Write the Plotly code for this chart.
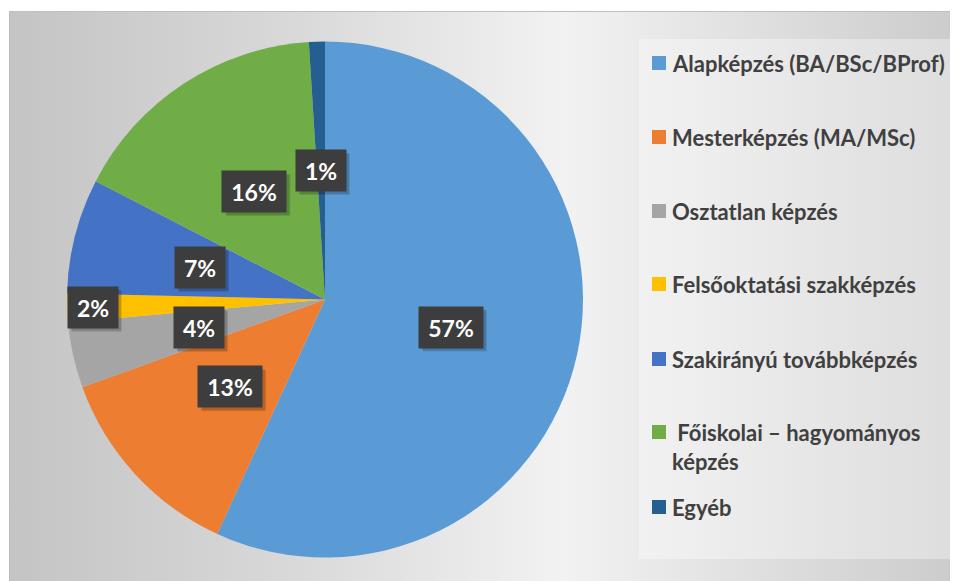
import math
import plotly.graph_objects as go

# ---- data ----
categories = [
    "Alapképzés (BA/BSc/BProf)",
    "Mesterképzés (MA/MSc)",
    "Osztatlan képzés",
    "Felsőoktatási szakképzés",
    "Szakirányú továbbképzés",
    "Főiskolai – hagyományos képzés",
    "Egyéb",
]
shares = [56.8, 12.6, 4.1, 1.8, 7.2, 16.4, 1.0]
colors = ["#5B9BD5", "#ED7D31", "#A5A5A5", "#FFC000", "#4472C4", "#70AD47", "#255E91"]

# ---- layout constants (page pixel coordinates) ----
PAGE_W, PAGE_H = 958, 581
OFF = 8                      # default body margin of the html page
W, H = PAGE_W - OFF, PAGE_H - OFF
CX, CY, R = 325, 299.5, 258
label_radius = [0.5, 0.5, 0.5, 0.9, 0.5, 0.5, 0.5]
legend_y = [63, 137, 211, 284, 359, 432, 507]
legend_display = {
    "Főiskolai – hagyományos képzés": "\u00a0Főiskolai – hagyományos<br>képzés",
}
FONT = "Lato"

fig = go.Figure()

# background panel with gradient
fig.add_trace(go.Scatter(
    x=[9.5, 965, 965, 9.5, 9.5], y=[11.5, 11.5, 595, 595, 11.5],
    mode="lines", fill="toself",
    fillgradient=dict(type="horizontal",
                      colorscale=[[0, "#c4c4c4"], [0.3, "#d9d9d9"], [0.58, "#f2f2f2"], [1, "#cbcbcb"]]),
    line=dict(color="#bdbdbd", width=1),
    hoverinfo="skip", showlegend=False,
))


def px_x(v):
    return (v - OFF) / W


def px_y(v):
    return 1 - (v - OFF) / H


fig.add_trace(go.Pie(
    labels=categories, values=shares,
    marker=dict(colors=colors, line=dict(width=0)),
    sort=False, direction="clockwise", rotation=0,
    textinfo="none", hoverinfo="label+percent",
    domain=dict(x=[px_x(CX - R), px_x(CX + R)], y=[px_y(CY + R), px_y(CY - R)]),
    showlegend=False,
))

annotations = []
shapes = []

# data labels
total = sum(shares)
cum = 0.0
for v, f in zip(shares, label_radius):
    mid = (cum + v / 2) / total * 2 * math.pi
    cum += v
    x = CX + R * f * math.sin(mid)
    y = CY - R * f * math.cos(mid)
    txt = f"{round(v / total * 100)}%"
    bw = 22 + 14 * len(txt)
    bh = 41
    # soft shadow
    for k, a in ((4, 0.10), (3, 0.14)):
        shapes.append(dict(type="rect", xref="x", yref="y",
                           x0=x - bw / 2 + k, x1=x + bw / 2 + k, y0=y - bh / 2 + k, y1=y + bh / 2 + k,
                           fillcolor=f"rgba(0,0,0,{a})", line=dict(width=0), layer="above"))
    annotations.append(dict(
        x=x, y=y, xref="x", yref="y", text=txt, showarrow=False,
        width=bw, height=bh, borderpad=0, bgcolor="#3d3d3d",
        font=dict(family=FONT, size=23, color="#ffffff", weight="bold"),
    ))

# legend box
shapes.insert(0, dict(type="rect", xref="x", yref="y", x0=639, x1=954, y0=39, y1=559,
                      fillcolor="rgba(255,255,255,0.35)", line=dict(width=0), layer="above"))

# manual legend
for cat, col, ly in zip(categories, colors, legend_y):
    shapes.append(dict(type="rect", xref="x", yref="y", x0=652, x1=666, y0=ly - 7, y1=ly + 7,
                       fillcolor=col, line=dict(width=0), layer="above"))
    disp = legend_display.get(cat, cat)
    multi = "<br>" in disp
    annotations.append(dict(
        x=671, y=(ly - 14) if multi else ly, xref="x", yref="y",
        xanchor="left", yanchor="top" if multi else "middle", align="left",
        text=disp, showarrow=False, borderpad=0,
        font=dict(family=FONT, size=22, color="#404040", weight="bold"),
    ))

fig.update_layout(
    width=W, height=H,
    margin=dict(l=0, r=0, t=0, b=0),
    paper_bgcolor="#ffffff", plot_bgcolor="rgba(0,0,0,0)",
    xaxis=dict(range=[OFF, PAGE_W], visible=False, fixedrange=True, domain=[0, 1]),
    yaxis=dict(range=[PAGE_H, OFF], visible=False, fixedrange=True, domain=[0, 1]),
    annotations=annotations, shapes=shapes,
    showlegend=False,
)

fig.write_html("out.html")
